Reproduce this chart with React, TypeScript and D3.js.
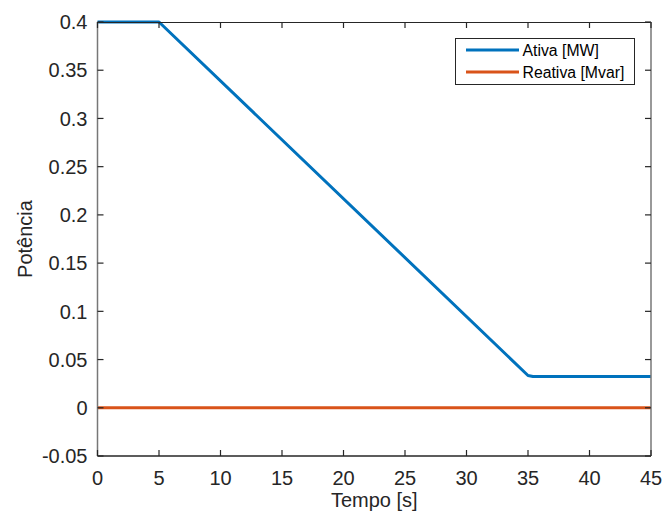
import React, { useEffect, useRef } from 'react';
import * as d3 from 'd3';

const ativaT = [0, 5, 35, 35.4, 45];
const ativaP = [0.4, 0.4, 0.0335, 0.0325, 0.0325];
const reativaT = [0, 45];
const reativaP = [0, 0];
const xTicks = [0, 5, 10, 15, 20, 25, 30, 35, 40, 45];
const yTicks = [-0.05, 0, 0.05, 0.1, 0.15, 0.2, 0.25, 0.3, 0.35, 0.4];
const seriesNames = ['Ativa [MW]', 'Reativa [Mvar]'];
const seriesColors = ['#0072BD', '#D95319'];

export default function App() {
  const ref = useRef<SVGSVGElement>(null);

  useEffect(() => {
    const svg = d3.select(ref.current);
    svg.selectAll('*').remove();
    const margin = { top: 22, right: 13, bottom: 60, left: 97.5 };
    const W = 664, H = 516;
    const width = W - margin.left - margin.right;
    const height = H - margin.top - margin.bottom;
    const font = 'Liberation Sans, Arial, Helvetica, sans-serif';

    svg.append('rect').attr('width', W).attr('height', H).attr('fill', '#fff');
    const g = svg.append('g').attr('transform', `translate(${margin.left},${margin.top})`);

    const x = d3.scaleLinear().domain([0, 45]).range([0, width]);
    const y = d3.scaleLinear().domain([-0.05, 0.4]).range([height, 0]);

    // series
    const line = d3.line<[number, number]>().x(d => x(d[0])).y(d => y(d[1]));
    const series: [number, number][][] = [
      ativaT.map((t, i) => [t, ativaP[i]]),
      reativaT.map((t, i) => [t, reativaP[i]]),
    ];
    series.forEach((s, i) => {
      g.append('path').datum(s).attr('d', line).attr('fill', 'none')
        .attr('stroke', seriesColors[i]).attr('stroke-width', 3).attr('stroke-linejoin', 'round');
    });

    // box
    g.append('line').attr('x1', 0).attr('x2', width).attr('y1', 0.5).attr('y2', 0.5).attr('stroke', '#262626');
    g.append('line').attr('x1', 0).attr('x2', width).attr('y1', height).attr('y2', height).attr('stroke', '#262626').attr('stroke-width', 1.5);
    g.append('line').attr('x1', 0).attr('x2', 0).attr('y1', 0).attr('y2', height).attr('stroke', '#777').attr('stroke-width', 1.5);
    g.append('line').attr('x1', width).attr('x2', width).attr('y1', 0).attr('y2', height).attr('stroke', '#777').attr('stroke-width', 1.5);

    // ticks
    xTicks.forEach(t => {
      g.append('line').attr('x1', x(t)).attr('x2', x(t)).attr('y1', height).attr('y2', height - 6).attr('stroke', '#262626').attr('stroke-width', 1.2);
      g.append('line').attr('x1', x(t)).attr('x2', x(t)).attr('y1', 0).attr('y2', 6).attr('stroke', '#262626').attr('stroke-width', 1.2);
      g.append('text').attr('x', x(t)).attr('y', height + 28.5).attr('text-anchor', 'middle')
        .attr('font-family', font).attr('font-size', 20).attr('fill', '#262626').text(String(t));
    });
    yTicks.forEach(t => {
      g.append('line').attr('x1', 0).attr('x2', 6).attr('y1', y(t)).attr('y2', y(t)).attr('stroke', '#262626').attr('stroke-width', 1.2);
      g.append('line').attr('x1', width).attr('x2', width - 6).attr('y1', y(t)).attr('y2', y(t)).attr('stroke', '#262626').attr('stroke-width', 1.2);
      g.append('text').attr('x', -10).attr('y', y(t)).attr('dy', '0.36em').attr('text-anchor', 'end')
        .attr('font-family', font).attr('font-size', 20).attr('fill', '#262626').text(String(t));
    });

    // axis labels
    g.append('text').attr('x', width / 2).attr('y', height + 51).attr('text-anchor', 'middle')
      .attr('font-family', font).attr('font-size', 20).attr('fill', '#262626').text('Tempo [s]');
    g.append('text').attr('transform', `translate(${-65.5},${height / 2}) rotate(-90)`).attr('text-anchor', 'middle')
      .attr('font-family', font).attr('font-size', 20).attr('fill', '#262626').text('Potência');

    // legend
    const lg = svg.append('g').attr('transform', 'translate(455,38)');
    lg.append('rect').attr('x', 0.5).attr('y', 0.5).attr('width', 179).attr('height', 46)
      .attr('fill', '#fff').attr('stroke', '#262626').attr('stroke-width', 1);
    seriesNames.forEach((n, i) => {
      const yy = 12 + i * 22;
      lg.append('line').attr('x1', 11).attr('x2', 64).attr('y1', yy).attr('y2', yy)
        .attr('stroke', seriesColors[i]).attr('stroke-width', 3);
      lg.append('text').attr('x', 67.5).attr('y', yy).attr('dy', '0.36em')
        .attr('font-family', font).attr('font-size', 15.8).attr('fill', '#000').text(n);
    });
  }, []);

  return (
    <svg ref={ref} width={664} height={516}
      style={{ position: 'absolute', left: 0, top: 0, display: 'block' }} />
  );
}
